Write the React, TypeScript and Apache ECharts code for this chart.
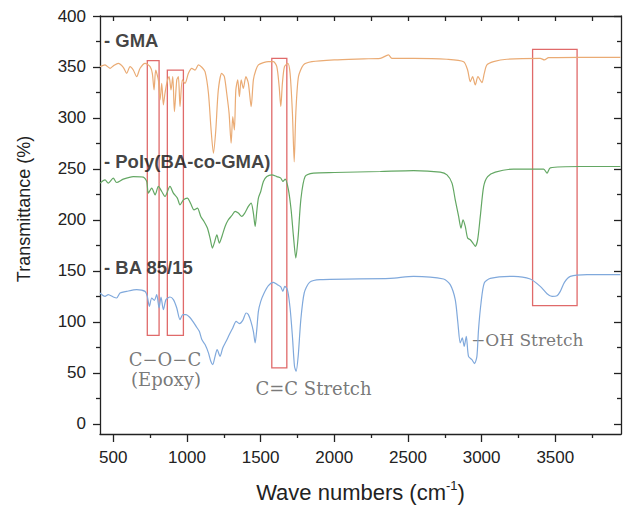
import React, { useEffect, useRef } from "react";
import * as echarts from "echarts";

// ---------- data (wave number cm^-1, transmittance %) ----------
const gmaWave = [410,444,478,500,534,568,591,614,636,659,682,716,750,765,777,788,806,818,829,840,851,863,879,892,904,915,931,942,953,969,987,1010,1033,1055,1078,1101,1123,1146,1164,1180,1196,1213,1236,1254,1270,1286,1300,1311,1322,1332,1345,1356,1368,1383,1400,1417,1436,1451,1468,1485,1519,1553,1587,1610,1626,1637,1648,1662,1685,1700,1716,1728,1739,1757,1791,1848,2000,2200,2312,2368,2391,2538,2765,2878,2905,2923,2939,2957,2975,3002,3018,3036,3081,3172,3398,3426,3455,3670,3942];
const gmaT = [350.3,352,348.7,351,353.6,349.7,343.8,350.3,347,340.5,348.7,353.6,350.3,343.8,327.5,347,337.3,317.7,334,312.8,324.2,334,340.5,327.5,340.5,306.2,337.3,340.5,311.1,337.3,334,343.8,348.7,347,352,349.7,345.4,324.2,288.3,265.5,288.3,327.5,343.8,340.5,324.2,304.7,275.3,301.3,288.3,327.5,337.3,320.9,337.3,329.1,340.5,334,311.1,337.3,347,352,354.2,355.2,355.2,350.3,330.7,311.1,334,350.3,353.6,343.8,304.7,257,304.7,340.5,352,355.2,357,358,358.5,361.8,358.5,358.5,357.6,355.2,347,335.6,340.5,332.4,340.5,334.7,343.8,352,355.2,357.6,358.5,356.9,359.1,359.5,359.5];

const polyWave = [410,444,466,500,523,568,636,704,727,738,761,784,806,829,851,885,908,935,953,976,1003,1026,1048,1071,1094,1116,1139,1157,1173,1189,1203,1220,1239,1259,1281,1304,1327,1349,1372,1395,1417,1436,1451,1463,1474,1485,1501,1519,1542,1576,1610,1637,1651,1667,1689,1707,1723,1739,1755,1773,1802,1859,2000,2312,2538,2719,2765,2799,2821,2844,2860,2874,2889,2905,2923,2941,2957,2973,2991,3014,3041,3093,3217,3421,3444,3466,3670,3942];
const polyT = [236.1,239.3,236.1,241,236.7,240,242.5,242,237.7,226.3,231.2,224.6,232.8,227.9,223,232.8,226.3,221.4,214.8,219.7,221.4,215.8,209.9,211.6,203.4,198.5,192,182.2,172.4,178.9,185.4,177.3,184.5,193.6,200.1,204.1,208.3,206.7,203.4,207.3,213.2,216.5,206.7,193.6,208.3,221.4,227.9,237.7,242.5,244.2,242.5,241,237.7,240,229.5,209.9,183.8,162.6,183.8,219.7,242.5,245.9,246.5,247.5,248.4,246.9,244.2,236.1,219.7,203.4,192,200.1,193.6,182.2,180.5,177.3,174.1,180.5,203.4,232.8,242.5,246.9,249.8,249.8,245.9,251.1,252.4,252.4];

const baWave = [410,444,466,500,523,546,591,659,716,731,745,761,779,795,811,824,840,858,885,908,931,953,972,994,1017,1040,1062,1084,1101,1123,1146,1162,1175,1191,1205,1225,1243,1266,1288,1311,1334,1356,1379,1402,1417,1434,1451,1463,1474,1485,1501,1524,1553,1587,1614,1637,1651,1664,1682,1700,1716,1730,1741,1755,1773,1796,1832,1904,2380,2538,2742,2787,2821,2839,2855,2869,2882,2896,2911,2934,2952,2968,2979,2996,3018,3059,3217,3330,3398,3444,3478,3512,3534,3562,3602,3716,3942];
const baT = [128.3,125,126.7,124.4,123.4,128.3,129.9,131.6,129.9,125,115.2,123.4,121.1,126.7,113.6,124.4,112,121.8,124.4,121.8,113.6,102.2,107.1,107.1,104.8,100.5,95.6,90.7,82.6,77.7,69.6,61.3,58.1,66.2,72.8,66.2,74.4,80.9,87.5,94,100.5,98.3,101.5,108.7,107.1,100.5,90.7,79.3,92.4,110.3,120.1,128.3,135.5,138.7,136.5,134.2,129.9,134.8,131.6,113.6,85.8,56.4,51.5,66.2,102.2,128.3,138.7,141.4,142.6,144.6,142,136.5,121.8,98.9,79.3,84.2,76,85.8,66.2,63,59.1,66.2,92.4,118.5,138.1,142.6,144.6,142,134.8,127.6,125,125.7,129.9,138.7,144.6,146.3,146.3];

// highlighted bands
const boxWaveFrom = [731, 867, 1576, 3346];
const boxWaveTo = [811, 976, 1678, 3648];
const boxTFrom = [86.8, 86.8, 54.9, 115.9];
const boxTTo = [356.2, 347, 358.5, 367.3];

// tick labels
const xMajor = [500, 1000, 1500, 2000, 2500, 3000, 3500];
const xMinor = [750, 1250, 1750, 2250, 2750, 3250, 3750];
const yMajor = [0, 50, 100, 150, 200, 250, 300, 350, 400];
const yMinor = [25, 75, 125, 175, 225, 275, 325, 375];

// text annotations
const sampleNames = ["- GMA", "- Poly(BA-co-GMA)", "- BA 85/15"];
const sampleNameWave = [437, 437, 437];
const sampleNameT = [375.5, 257.5, 153.8];
const noteTexts = ["C\u2212O\u2212C", "(Epoxy)", "C=C Stretch", "\u2212OH Stretch"];
const noteWave = [851, 858, 1859, 2928];
const noteT = [63, 43.5, 34.3, 82.6];
const noteAlign = ["center", "center", "center", "left"];

const zip = (a: number[], b: number[]) => a.map((v, i) => [v, b[i]]);

export default function App() {
  const ref = useRef<HTMLDivElement>(null);
  useEffect(() => {
    if (!ref.current) return;
    const chart = echarts.init(ref.current, undefined, { renderer: "svg" });
    const axisColor = "#222";
    const sans = "'Liberation Sans', Arial, sans-serif";
    const serif = "'DejaVu Serif', serif";
    const xRange = { min: 410, max: 3946 };
    const yRange = { min: -10, max: 400 };
    const hiddenLabel = { show: false };
    const lineStyle = { color: axisColor, width: 1.3 };
    const plain = (v: number) => String(v);

    const areas = boxWaveFrom.map((w, i) => [
      { xAxis: w, yAxis: boxTFrom[i] },
      { xAxis: boxWaveTo[i], yAxis: boxTTo[i] },
    ]);

    const labelItems = sampleNames.map((t, i) => ({
      value: [sampleNameWave[i], sampleNameT[i]],
      label: {
        show: true,
        formatter: t,
        position: "right",
        distance: 0,
        fontFamily: sans,
        fontWeight: "bold",
        fontSize: 18.5,
        color: "#111",
      },
    }));
    const noteItems = noteTexts.map((t, i) => ({
      value: [noteWave[i], noteT[i]],
      label: {
        show: true,
        formatter: t,
        position: noteAlign[i] === "left" ? "right" : "inside",
        distance: 0,
        fontFamily: serif,
        fontSize: noteAlign[i] === "left" ? 17 : 18,
        color: "#555",
      },
    }));

    chart.setOption({
      animation: false,
      backgroundColor: "#fff",
      grid: { left: 100, right: 5, top: 16, bottom: 72, containLabel: false, outerBoundsMode: "none" },
      xAxis: [
        {
          type: "value",
          ...xRange,
          position: "bottom",
          axisLine: { show: true, onZero: false, lineStyle },
          axisTick: { show: true, inside: false, length: 8, customValues: xMajor, lineStyle },
          axisLabel: { customValues: xMajor, formatter: plain, color: axisColor, fontSize: 17, fontFamily: sans, margin: 15 },
          splitLine: { show: false },
          name: "Wave numbers (cm{sup|-1})",
          nameLocation: "middle",
          nameGap: 45,
          nameTextStyle: {
            color: axisColor,
            fontSize: 22,
            fontFamily: sans,
            lineHeight: 26,
            rich: {
              sup: { fontSize: 13, fontFamily: sans, color: axisColor, verticalAlign: "top", lineHeight: 14 },
            },
          },
        },
        {
          type: "value",
          ...xRange,
          position: "bottom",
          axisLine: { show: false, onZero: false },
          axisTick: { show: true, inside: false, length: 4, customValues: xMinor, lineStyle },
          axisLabel: hiddenLabel,
          splitLine: { show: false },
        },
        {
          type: "value",
          ...xRange,
          position: "top",
          axisLine: { show: true, onZero: false, lineStyle },
          axisTick: { show: true, inside: true, length: 5, customValues: [...xMajor, ...xMinor], lineStyle },
          axisLabel: hiddenLabel,
          splitLine: { show: false },
        },
      ],
      yAxis: [
        {
          type: "value",
          ...yRange,
          position: "left",
          axisLine: { show: true, onZero: false, lineStyle },
          axisTick: { show: true, inside: false, length: 7, customValues: yMajor, lineStyle },
          axisLabel: { customValues: yMajor, formatter: plain, color: axisColor, fontSize: 17, fontFamily: sans, margin: 14 },
          splitLine: { show: false },
          name: "Transmittance (%)",
          nameLocation: "middle",
          nameRotate: 90,
          nameGap: 67,
          nameTextStyle: { color: axisColor, fontSize: 18, fontFamily: sans, padding: [0, 0, 0, 32] },
        },
        {
          type: "value",
          ...yRange,
          position: "left",
          axisLine: { show: false, onZero: false },
          axisTick: { show: true, inside: false, length: 4, customValues: yMinor, lineStyle },
          axisLabel: hiddenLabel,
          splitLine: { show: false },
        },
        {
          type: "value",
          ...yRange,
          position: "right",
          axisLine: { show: true, onZero: false, lineStyle },
          axisTick: { show: true, inside: true, length: 7, customValues: yMajor, lineStyle },
          axisLabel: hiddenLabel,
          splitLine: { show: false },
        },
        {
          type: "value",
          ...yRange,
          position: "right",
          axisLine: { show: false, onZero: false },
          axisTick: { show: true, inside: true, length: 4, customValues: yMinor, lineStyle },
          axisLabel: hiddenLabel,
          splitLine: { show: false },
        },
      ],
      series: [
        {
          name: "GMA",
          type: "line",
          data: zip(gmaWave, gmaT),
          showSymbol: false,
          smooth: 0.25,
          lineStyle: { color: "#eaab74", width: 1.2 },
          silent: true,
        },
        {
          name: "Poly(BA-co-GMA)",
          type: "line",
          data: zip(polyWave, polyT),
          showSymbol: false,
          smooth: 0.25,
          lineStyle: { color: "#63a763", width: 1.2 },
          silent: true,
        },
        {
          name: "BA 85/15",
          type: "line",
          data: zip(baWave, baT),
          showSymbol: false,
          smooth: 0.25,
          lineStyle: { color: "#80a9dc", width: 1.2 },
          silent: true,
          markArea: {
            silent: true,
            itemStyle: { color: "rgba(0,0,0,0)", borderColor: "#e06a6a", borderWidth: 1.3 },
            data: areas,
          },
        },
        {
          type: "scatter",
          data: labelItems,
          symbolSize: 0,
          silent: true,
        },
        {
          type: "scatter",
          data: noteItems,
          symbolSize: 0,
          silent: true,
        },
      ],
    });
    return () => chart.dispose();
  }, []);
  return (
    <div
      ref={ref}
      style={{ position: "absolute", left: 0, top: 0, width: 626, height: 506, background: "#fff" }}
    />
  );
}
